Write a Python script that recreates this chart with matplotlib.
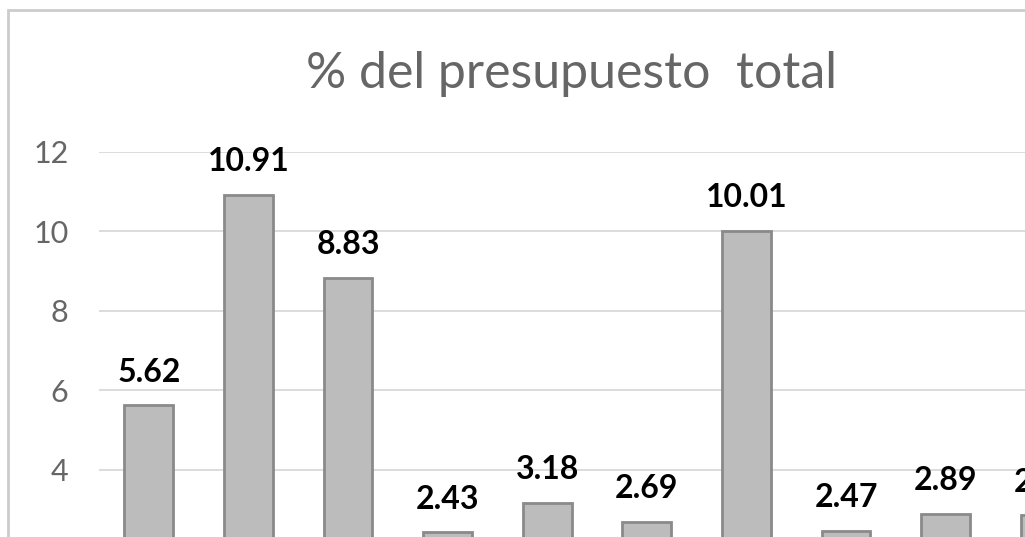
import numpy
import matplotlib
matplotlib.use("Agg")
import matplotlib.pyplot as plt
from matplotlib.patches import Rectangle

title = "% del presupuesto  total"
positions = [0, 1, 2, 3, 4, 5, 6, 7, 8, 9]
values = [5.62, 10.91, 8.83, 2.43, 3.18, 2.69, 10.01, 2.47, 2.89, 2.86]
# only the ticks that fall inside the cropped picture
yticks = [4, 6, 8, 10, 12]

W, H = 1025, 537
fig = plt.figure(figsize=(W / 100, H / 100), dpi=100)
fig.patch.set_facecolor('white')

# plot area runs past the bottom and right edges (the picture is a crop)
slot = 99.6
nslots = 11
left = 99 / W
top = (H - 151.7) / H
bottom = (H - 629) / H
ax = fig.add_axes([left, bottom, nslots * slot / W, top - bottom])

ax.bar(positions, values, width=0.49, color='#bcbcbc',
       edgecolor='#8a8a8a', linewidth=2.0, zorder=3)
for x, v in zip(positions, values):
    ax.annotate(f'{v:.2f}', (x, v), xytext=(0, 17), textcoords='offset points',
                ha='center', va='baseline', fontsize=23, fontweight='bold',
                family=['Lato', 'DejaVu Sans'], color='black',
                annotation_clip=False)

ax.set_xlim(-0.5, nslots - 0.5)
ax.set_ylim(0, 12)
ax.set_yticks(yticks)
ax.set_xticks([])
ax.grid(axis='y', color='#d9d9d9', linewidth=1.3, zorder=0)
for s in ax.spines.values():
    s.set_visible(False)
ax.tick_params(axis='y', length=0, pad=22, labelsize=22, labelcolor='#666666')
for lab in ax.get_yticklabels():
    lab.set_family(['Lato', 'DejaVu Sans'])

fig.text(572 / W, 1 - 74 / H, title, ha='center', va='center', fontsize=36,
         color='#666666', family=['Lato', 'DejaVu Sans'])

# chart area border
fig.patches.append(Rectangle((8 / W, -0.5), 2.0, 1.5 - 10 / H,
                             transform=fig.transFigure, fill=False,
                             edgecolor='#cccccc', linewidth=2.0))

plt.savefig('out.png', dpi=100)
